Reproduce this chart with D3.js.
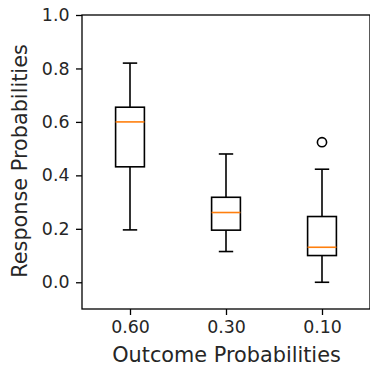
<!DOCTYPE html>
<html><head><meta charset="utf-8">
<script src="https://cdn.jsdelivr.net/npm/d3@7"></script>
<style>html,body{margin:0;padding:0;background:#fff}</style>
</head><body>
<svg id="c" width="370" height="366"></svg>
<script>
const categories = ["0.60", "0.30", "0.10"];
const whiskerLow = [0.196, 0.115, 0.0];
const q1 = [0.432, 0.195, 0.100];
const median = [0.600, 0.261, 0.131];
const q3 = [0.655, 0.318, 0.246];
const whiskerHigh = [0.820, 0.480, 0.423];
const outliers = [[], [], [0.524]];
const yTicks = [0.0, 0.2, 0.4, 0.6, 0.8, 1.0];

const svg = d3.select("#c");
const L = 82, R = 370, T = 15, B = 309;
const x = d3.scaleLinear().domain([0.5, 3.5]).range([L, R]);
const y = d3.scaleLinear().domain([-0.1, 1.0]).range([B, T]);
const font = "DejaVu Sans, sans-serif";
const fs = 17.4;
const fsLabel = 20.8;
const lw = 1.6;
const boxW = x(1.3) - x(1.0);
const capW = boxW / 2;

const data = categories.map((c, i) => ({c, i: i + 1, lo: whiskerLow[i], q1: q1[i], med: median[i], q3: q3[i], hi: whiskerHigh[i], out: outliers[i]}));

const g = svg.append("g");
data.forEach(d => {
  const cx = x(d.i);
  const gg = g.append("g").attr("stroke", "#000").attr("stroke-width", lw).attr("fill", "none");
  gg.append("line").attr("x1", cx).attr("x2", cx).attr("y1", y(d.q3)).attr("y2", y(d.hi));
  gg.append("line").attr("x1", cx).attr("x2", cx).attr("y1", y(d.q1)).attr("y2", y(d.lo));
  gg.append("line").attr("x1", cx - capW / 2).attr("x2", cx + capW / 2).attr("y1", y(d.hi)).attr("y2", y(d.hi));
  gg.append("line").attr("x1", cx - capW / 2).attr("x2", cx + capW / 2).attr("y1", y(d.lo)).attr("y2", y(d.lo));
  gg.append("rect").attr("x", cx - boxW / 2).attr("width", boxW).attr("y", y(d.q3)).attr("height", y(d.q1) - y(d.q3));
  g.append("line").attr("x1", cx - boxW / 2).attr("x2", cx + boxW / 2).attr("y1", y(d.med)).attr("y2", y(d.med))
    .attr("stroke", "#ff7f0e").attr("stroke-width", lw);
  d.out.forEach(v => {
    g.append("circle").attr("cx", cx).attr("cy", y(v)).attr("r", 4.6)
      .attr("fill", "none").attr("stroke", "#000").attr("stroke-width", lw);
  });
});

// axes
const yAxis = d3.axisLeft(y).tickValues(yTicks).tickFormat(d3.format(".1f")).tickSize(6).tickPadding(6.5);
const ya = svg.append("g").attr("transform", `translate(${L},0)`).call(yAxis);
const xAxis = d3.axisBottom(x).tickValues([1, 2, 3]).tickFormat((d) => categories[d - 1]).tickSize(6).tickPadding(6);
const xa = svg.append("g").attr("transform", `translate(0,${B})`).call(xAxis);
[ya, xa].forEach(a => {
  a.select(".domain").remove();
  a.selectAll(".tick line").attr("stroke", "#000").attr("stroke-width", 1.3);
  a.selectAll(".tick text").attr("font-family", font).attr("font-size", fs).attr("fill", "#262626");
});

// spines
svg.append("rect").attr("x", L).attr("y", T).attr("width", R - L).attr("height", B - T)
  .attr("fill", "none").attr("stroke", "#000").attr("stroke-width", 1.3);

svg.append("text").attr("x", (L + R) / 2 + 0.5).attr("y", 362).attr("text-anchor", "middle")
  .attr("font-family", font).attr("font-size", fsLabel).attr("fill", "#262626").text("Outcome Probabilities");
svg.append("text").attr("transform", `translate(27,${(T + B) / 2 - 1}) rotate(-90)`).attr("text-anchor", "middle")
  .attr("font-family", font).attr("font-size", fsLabel).attr("fill", "#262626").text("Response Probabilities");
</script>
</body></html>
